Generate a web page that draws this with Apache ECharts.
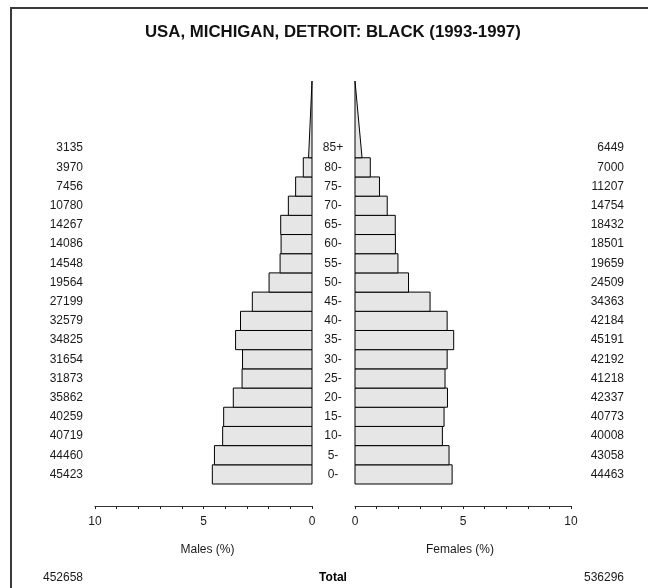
<!DOCTYPE html>
<html>
<head>
<meta charset="utf-8">
<script src="https://cdn.jsdelivr.net/npm/echarts@6/dist/echarts.min.js"></script>
<style>
html,body{margin:0;padding:0;background:#fff;}
#chart{width:648px;height:588px;}
</style>
</head>
<body>
<div id="chart"></div>
<script>
// ---- data ----
var ageGroups   = ['0-','5-','10-','15-','20-','25-','30-','35-','40-','45-','50-','55-','60-','65-','70-','75-','80-','85+'];
var ageStarts   = [0,5,10,15,20,25,30,35,40,45,50,55,60,65,70,75,80,85];
var maleCounts  = [45423,44460,40719,40259,35862,31873,31654,34825,32579,27199,19564,14548,14086,14267,10780,7456,3970,3135];
var femaleCounts= [44463,43058,40008,40773,42337,41218,42192,45191,42184,34363,24509,19659,18501,18432,14754,11207,7000,6449];
var maleTotal   = 452658;
var femaleTotal = 536296;
var xTickLabels = [0,5,10];
var titleText   = 'USA, MICHIGAN, DETROIT: BLACK (1993-1997)';
var openAgeTop  = 105;   // open-ended group drawn as a triangle up to this age

var grand = maleTotal + femaleTotal;
var last = ageGroups.length - 1;
function pct(c){ return c / grand * 100; }
var maleBars = [], femaleBars = [];
for (var i = 0; i < last; i++) {
  maleBars.push([pct(maleCounts[i]), ageStarts[i], ageStarts[i+1]]);
  femaleBars.push([pct(femaleCounts[i]), ageStarts[i], ageStarts[i+1]]);
}
var span = ageStarts[1] - ageStarts[0];
var openSpan = openAgeTop - ageStarts[last];
// triangle with the same area as a bar of the group
var maleTri   = [[pct(maleCounts[last]) * span * 2 / openSpan, ageStarts[last], openAgeTop]];
var femaleTri = [[pct(femaleCounts[last]) * span * 2 / openSpan, ageStarts[last], openAgeTop]];

var FONT = '"Liberation Sans", Arial, Helvetica, sans-serif';
var TXT = '#1a1a1a';
var FILL = '#e6e6e6';

function groupIndex(v){
  var k = (v - span/2) / span;
  var r = Math.round(k);
  if (Math.abs(k - r) > 1e-6 || r < 0 || r > last) return -1;
  return r;
}

function barItem(params, api){
  var a = api.coord([0, api.value(1)]);
  var b = api.coord([api.value(0), api.value(2)]);
  return {
    type: 'rect',
    shape: { x: Math.min(a[0], b[0]), y: Math.min(a[1], b[1]), width: Math.abs(b[0]-a[0]), height: Math.abs(b[1]-a[1]) },
    style: { fill: FILL, stroke: '#000', lineWidth: 1 }
  };
}
function triItem(params, api){
  var p1 = api.coord([0, api.value(2)]);
  var p2 = api.coord([api.value(0), api.value(1)]);
  var p3 = api.coord([0, api.value(1)]);
  return {
    type: 'polygon',
    shape: { points: [p1, p2, p3] },
    style: { fill: FILL, stroke: '#000', lineWidth: 1 }
  };
}

function xAxis(gridIndex, inverse, name, namePad){
  return {
    gridIndex: gridIndex, type: 'value', min: 0, max: 10, interval: 1,
    inverse: inverse, position: 'bottom', offset: 22, splitLine: { show: false },
    axisLine: { onZero: false, lineStyle: { color: '#333', width: 1.2 } },
    axisTick: { length: 3, lineStyle: { color: '#222' } },
    axisLabel: {
      margin: 10, fontSize: 12, color: TXT, fontFamily: FONT,
      formatter: function(v){ return xTickLabels.indexOf(v) >= 0 ? String(v) : ''; }
    },
    name: name, nameLocation: 'middle', nameGap: 38,
    nameTextStyle: { fontSize: 12, color: TXT, fontFamily: FONT, padding: namePad }
  };
}

function yAxis(gridIndex, position, labels, align, margin){
  return {
    gridIndex: gridIndex, type: 'value', min: 0, max: openAgeTop, interval: span/2,
    position: position,
    axisLine: { show: false, onZero: false }, axisTick: { show: false }, splitLine: { show: false },
    axisLabel: {
      show: labels !== null, align: align, margin: margin, fontSize: 12, color: TXT, fontFamily: FONT,
      formatter: function(v){ var k = groupIndex(v); return k < 0 ? '' : String(labels[k]); }
    }
  };
}

var chart = echarts.init(document.getElementById('chart'), null, { renderer: 'canvas' });
chart.setOption({
  animation: false,
  backgroundColor: '#fff',
  title: {
    text: titleText, left: 145, top: 24, padding: 0,
    textStyle: { fontSize: 16.8, fontWeight: 'bold', color: '#111', fontFamily: FONT }
  },
  grid: [
    { left: 95, top: 81, width: 217, bottom: 104 },
    { left: 355, top: 81, width: 216, bottom: 104 }
  ],
  xAxis: [xAxis(0, true, 'Males (%)', [0,0,0,8]), xAxis(1, false, 'Females (%)', [0,6,0,0])],
  yAxis: [
    yAxis(0, 'right', ageGroups, 'center', 21),
    yAxis(0, 'left', maleCounts, 'right', 12),
    yAxis(1, 'right', femaleCounts, 'right', 53)
  ],
  series: [
    { type: 'custom', xAxisIndex: 0, yAxisIndex: 0, data: maleBars, renderItem: barItem, encode: { x: 0, y: [1,2] } },
    { type: 'custom', xAxisIndex: 0, yAxisIndex: 0, data: maleTri, renderItem: triItem, encode: { x: 0, y: [1,2] }, clip: false },
    { type: 'custom', xAxisIndex: 1, yAxisIndex: 2, data: femaleBars, renderItem: barItem, encode: { x: 0, y: [1,2] } },
    { type: 'custom', xAxisIndex: 1, yAxisIndex: 2, data: femaleTri, renderItem: triItem, encode: { x: 0, y: [1,2] }, clip: false }
  ],
  graphic: [
    { type: 'rect', shape: { x: 11, y: 8, width: 700, height: 700 }, style: { fill: 'none', stroke: '#3a3a3a', lineWidth: 2 }, silent: true },
    { type: 'text', x: 83, y: 578, style: { text: String(maleTotal), fontSize: 12, fontFamily: FONT, fill: TXT, textAlign: 'right', textVerticalAlign: 'middle' } },
    { type: 'text', x: 333, y: 578, style: { text: 'Total', fontSize: 12, fontWeight: 'bold', fontFamily: FONT, fill: '#000', textAlign: 'center', textVerticalAlign: 'middle' } },
    { type: 'text', x: 624, y: 578, style: { text: String(femaleTotal), fontSize: 12, fontFamily: FONT, fill: TXT, textAlign: 'right', textVerticalAlign: 'middle' } }
  ]
});
</script>
</body>
</html>
